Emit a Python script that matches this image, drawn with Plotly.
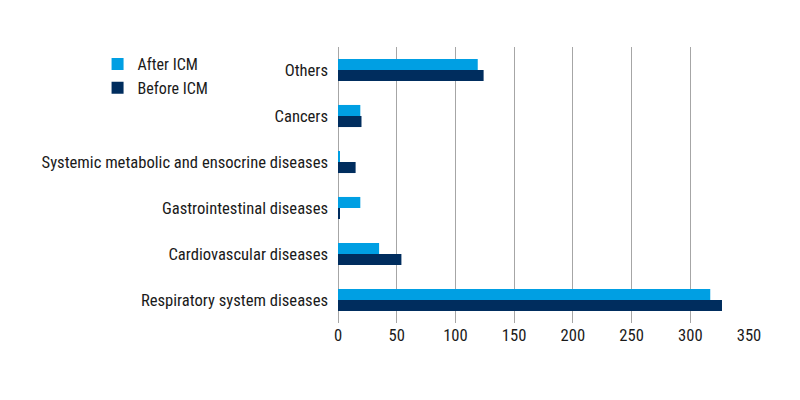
import plotly.graph_objects as go

categories = [
    "Respiratory system diseases",
    "Cardiovascular diseases",
    "Gastrointestinal diseases",
    "Systemic metabolic and ensocrine diseases",
    "Cancers",
    "Others",
]
after_icm = [317, 35, 19, 1, 19, 119]
before_icm = [327, 54, 1, 15, 20, 124]
x_ticks = [0, 50, 100, 150, 200, 250, 300, 350]

FONT = "Roboto Condensed, Liberation Sans, sans-serif"
FS = 16.6

fig = go.Figure()
fig.add_trace(go.Bar(
    y=categories, x=before_icm, name="Before ICM", orientation="h",
    marker=dict(color="#002D5E", line=dict(width=0)),
))
fig.add_trace(go.Bar(
    y=categories, x=after_icm, name="After ICM", orientation="h",
    marker=dict(color="#009FE3", line=dict(width=0)),
))

fig.update_layout(
    width=800, height=400,
    margin=dict(l=330, r=59, t=39, b=85, autoexpand=False),
    paper_bgcolor="white", plot_bgcolor="white",
    barmode="group", bargap=0.52, bargroupgap=0,
    font=dict(family=FONT, size=FS, color="#1a1a1a"),
    showlegend=True,
    legend=dict(
        x=-0.585, y=1.0, xanchor="left", yanchor="top",
        traceorder="reversed", font=dict(family=FONT, size=16, color="#1a1a1a"),
        bgcolor="rgba(0,0,0,0)", itemclick=False,
    ),
    xaxis=dict(
        range=[0, 350], tickvals=x_ticks, ticktext=[str(v) for v in x_ticks],
        showgrid=True, gridcolor="#A6A6A6", gridwidth=1.3,
        zeroline=True, zerolinecolor="#A6A6A6", zerolinewidth=1.3,
        showline=False, ticks="", ticklen=0, automargin=False,
        tickfont=dict(family=FONT, size=FS, color="#1a1a1a"),
    ),
    yaxis=dict(
        categoryorder="array", categoryarray=categories,
        showgrid=False, zeroline=False, showline=False, ticks="",
        ticklabelstandoff=9, automargin=False,
        tickfont=dict(family=FONT, size=FS, color="#1a1a1a"),
    ),
)

fig.write_html("out.html")
